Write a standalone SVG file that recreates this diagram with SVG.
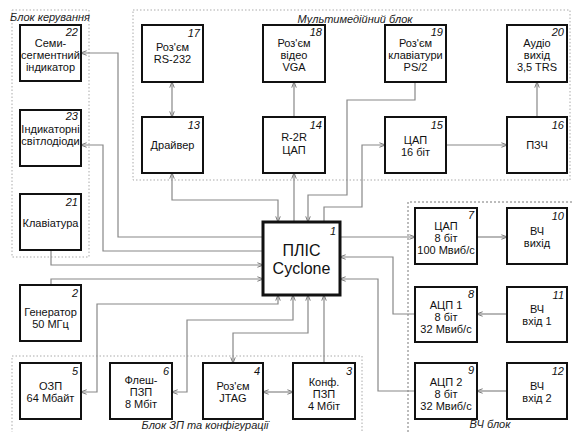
<svg xmlns="http://www.w3.org/2000/svg" width="574" height="432" viewBox="0 0 574 432">
<defs>
<marker id="ah" viewBox="0 0 8 8" refX="7.5" refY="4" markerWidth="6" markerHeight="6" markerUnits="userSpaceOnUse" orient="auto-start-reverse">
<path d="M0,1 L8,4 L0,7" fill="none" stroke="#777" stroke-width="1.3"/>
</marker>
<style>
.box{fill:#fff;stroke:#111;stroke-width:2}
.big{fill:#fff;stroke:#111;stroke-width:3}
.t{font-family:"Liberation Sans",Arial,sans-serif;font-size:11px;text-anchor:middle;fill:#111}
.tb{font-family:"Liberation Sans",Arial,sans-serif;font-size:16px;text-anchor:middle;fill:#111}
.n{font-family:"Liberation Sans",Arial,sans-serif;font-size:11px;font-style:italic;text-anchor:end;fill:#111}
.lbl{font-family:"Liberation Sans",Arial,sans-serif;font-size:11px;font-style:italic;text-anchor:middle;fill:#222}
.grp{fill:none;stroke:#aaa;stroke-width:1;stroke-dasharray:1.5,2}
.grp2{fill:none;stroke:#555;stroke-width:0.8;stroke-dasharray:2,2}
.c{fill:none;stroke:#888;stroke-width:1.2}
.e{marker-end:url(#ah)}
.s{marker-start:url(#ah)}
</style>
</defs>
<rect width="574" height="432" fill="#fff"/>
<g id="groups">
<rect class="grp" x="12" y="10" width="77" height="247"/>
<rect class="grp" x="133" y="10" width="437" height="170"/>
<path class="grp" d="M12,440 V356 H362 V440"/>
<path class="grp2" d="M408,440 V202 H572"/>
<text class="lbl" x="50" y="21">Блок керування</text>
<text class="lbl" x="355" y="23">Мультимедійний блок</text>
<text class="lbl" x="205" y="429">Блок ЗП та конфігурації</text>
<text class="lbl" x="490" y="428">ВЧ блок</text>
</g>
<g id="connectors">
<path class="c e" d="M263,237 H118 V53 H81"/>
<path class="c e" d="M263,251 H103 V145 H81"/>
<path class="c e" d="M51,250 V265 H263"/>
<path class="c e" d="M51,285 V279 H263"/>
<path class="c e s" d="M172,82 V117"/>
<path class="c e s" d="M172,173 V200 H278 V222"/>
<path class="c e" d="M294,117 V82"/>
<path class="c e" d="M294,222 V173"/>
<path class="c e" d="M415,82 V100 H347 V195 H308 V222"/>
<path class="c e" d="M324,222 V207 H362 V145 H385"/>
<path class="c e" d="M446,145 H507"/>
<path class="c e" d="M537,117 V82"/>
<path class="c e" d="M340,237 H415"/>
<path class="c e" d="M477,237 H507"/>
<path class="c e" d="M415,314 H393 V257 H340"/>
<path class="c e" d="M415,391 H378 V279 H340"/>
<path class="c e" d="M507,314 H477"/>
<path class="c e" d="M507,391 H477"/>
<path class="c e s" d="M278,295 V304 H97 V392 H81"/>
<path class="c e s" d="M293,295 V320 H187 V392 H172"/>
<path class="c e s" d="M308,295 V333 H233 V363"/>
<path class="c e s" d="M263,392 H293"/>
<path class="c e" d="M324,363 V295"/>
</g>
<g id="n22"><rect class="box" x="20" y="25" width="61" height="56"/><text class="n" x="78" y="36">22</text><text class="t" x="50.5" y="47">Семи-</text><text class="t" x="50.5" y="59">сегментний</text><text class="t" x="50.5" y="71">індикатор</text></g>
<g id="n23"><rect class="box" x="20" y="110" width="61" height="56"/><text class="n" x="78" y="120">23</text><text class="t" x="50.5" y="133">Індикаторні</text><text class="t" x="50.5" y="145">світлодіоди</text></g>
<g id="n21"><rect class="box" x="20" y="194" width="61" height="56"/><text class="n" x="78" y="206">21</text><text class="t" x="50.5" y="227">Клавіатура</text></g>
<g id="n2"><rect class="box" x="20" y="285" width="61" height="56"/><text class="n" x="78" y="297">2</text><text class="t" x="50.5" y="316">Генератор</text><text class="t" x="50.5" y="328">50 МГц</text></g>
<g id="n5"><rect class="box" x="20" y="363" width="61" height="56"/><text class="n" x="78" y="375">5</text><text class="t" x="50.5" y="390">ОЗП</text><text class="t" x="50.5" y="402">64 Мбайт</text></g>
<g id="n6"><rect class="box" x="110" y="363" width="62" height="56"/><text class="n" x="169" y="375">6</text><text class="t" x="141" y="384">Флеш-</text><text class="t" x="141" y="396">ПЗП</text><text class="t" x="141" y="408">8 Мбіт</text></g>
<g id="n4"><rect class="box" x="203" y="363" width="60" height="56"/><text class="n" x="260" y="375">4</text><text class="t" x="233" y="390">Роз'єм</text><text class="t" x="233" y="402">JTAG</text></g>
<g id="n3"><rect class="box" x="293" y="363" width="62" height="56"/><text class="n" x="352" y="375">3</text><text class="t" x="324" y="386">Конф.</text><text class="t" x="324" y="398">ПЗП</text><text class="t" x="324" y="410">4 Мбіт</text></g>
<g id="n17"><rect class="box" x="142" y="25" width="61" height="57"/><text class="n" x="200" y="37">17</text><text class="t" x="172.5" y="51">Роз'єм</text><text class="t" x="172.5" y="63">RS-232</text></g>
<g id="n13"><rect class="box" x="142" y="117" width="61" height="56"/><text class="n" x="200" y="129">13</text><text class="t" x="172.5" y="149">Драйвер</text></g>
<g id="n18"><rect class="box" x="263" y="25" width="62" height="57"/><text class="n" x="322" y="36">18</text><text class="t" x="294" y="47">Роз'єм</text><text class="t" x="294" y="59">відео</text><text class="t" x="294" y="71">VGA</text></g>
<g id="n14"><rect class="box" x="263" y="117" width="62" height="56"/><text class="n" x="322" y="129">14</text><text class="t" x="294" y="141">R-2R</text><text class="t" x="294" y="154">ЦАП</text></g>
<g id="n19"><rect class="box" x="385" y="25" width="61" height="57"/><text class="n" x="443" y="36">19</text><text class="t" x="415.5" y="47">Роз'єм</text><text class="t" x="415.5" y="59">клавіатури</text><text class="t" x="415.5" y="71">PS/2</text></g>
<g id="n15"><rect class="box" x="385" y="117" width="61" height="56"/><text class="n" x="443" y="129">15</text><text class="t" x="415.5" y="144">ЦАП</text><text class="t" x="415.5" y="156">16 біт</text></g>
<g id="n20"><rect class="box" x="507" y="25" width="60" height="57"/><text class="n" x="564" y="36">20</text><text class="t" x="537" y="47">Аудіо</text><text class="t" x="537" y="59">вихід</text><text class="t" x="537" y="71">3,5 TRS</text></g>
<g id="n16"><rect class="box" x="507" y="117" width="60" height="56"/><text class="n" x="564" y="129">16</text><text class="t" x="537" y="149">ПЗЧ</text></g>
<g id="n1"><rect class="big" x="263" y="222" width="77" height="73"/><text class="n" x="336" y="235">1</text><text class="tb" x="301.5" y="256">ПЛІС</text><text class="tb" x="301.5" y="274">Cyclone</text></g>
<g id="n7"><rect class="box" x="415" y="208" width="62" height="56"/><text class="n" x="474" y="219">7</text><text class="t" x="446" y="230">ЦАП</text><text class="t" x="446" y="242">8 біт</text><text class="t" x="446" y="254">100 Мвиб/с</text></g>
<g id="n10"><rect class="box" x="507" y="208" width="60" height="56"/><text class="n" x="564" y="220">10</text><text class="t" x="537" y="235">ВЧ</text><text class="t" x="537" y="247">вихід</text></g>
<g id="n8"><rect class="box" x="415" y="287" width="62" height="55"/><text class="n" x="474" y="298">8</text><text class="t" x="446" y="309">АЦП 1</text><text class="t" x="446" y="321">8 біт</text><text class="t" x="446" y="333">32 Мвиб/с</text></g>
<g id="n11"><rect class="box" x="507" y="287" width="60" height="55"/><text class="n" x="564" y="299">11</text><text class="t" x="537" y="313">ВЧ</text><text class="t" x="537" y="325">вхід 1</text></g>
<g id="n9"><rect class="box" x="415" y="363" width="62" height="56"/><text class="n" x="474" y="374">9</text><text class="t" x="446" y="386">АЦП 2</text><text class="t" x="446" y="398">8 біт</text><text class="t" x="446" y="410">32 Мвиб/с</text></g>
<g id="n12"><rect class="box" x="507" y="363" width="60" height="56"/><text class="n" x="564" y="375">12</text><text class="t" x="537" y="390">ВЧ</text><text class="t" x="537" y="402">вхід 2</text></g>
</svg>
